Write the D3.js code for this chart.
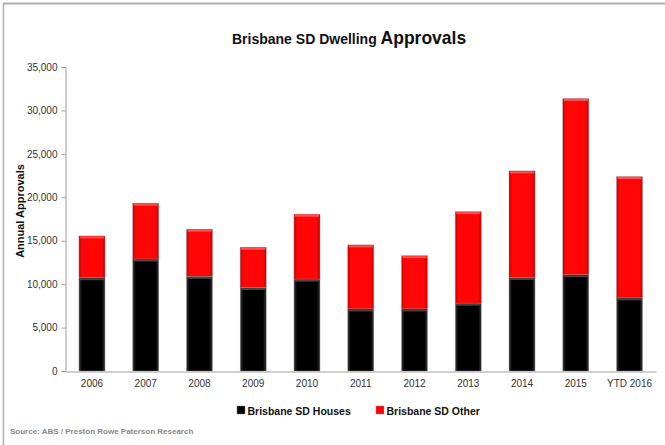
<!DOCTYPE html>
<html>
<head>
<meta charset="utf-8">
<script src="https://cdn.jsdelivr.net/npm/d3@7"></script>
<style>
  html, body { margin: 0; padding: 0; background: #fff; }
  svg { display: block; }
  text { font-family: "Liberation Sans", Arial, sans-serif; }
</style>
</head>
<body>
<svg id="chart" width="665" height="445"></svg>
<script>
const categories = ["2006", "2007", "2008", "2009", "2010", "2011", "2012", "2013", "2014", "2015", "YTD 2016"];
const houses = [10740, 12890, 10900, 9610, 10580, 7150, 7150, 7810, 10770, 11080, 8420];
const other  = [4810, 6430, 5425, 4640, 7470, 7370, 6130, 10540, 12270, 20290, 13965];
const seriesNames = ["Brisbane SD Houses", "Brisbane SD Other"];
const yTicks = [0, 5000, 10000, 15000, 20000, 25000, 30000, 35000];

const colors = ["#000000", "#ff0000"];

const svg = d3.select("#chart");

// frame (top and left border)
svg.append("line").attr("x1", 3).attr("x2", 665).attr("y1", 3.5).attr("y2", 3.5)
  .attr("stroke", "#b0b0b0").attr("stroke-width", 2);
svg.append("line").attr("x1", 3.5).attr("x2", 3.5).attr("y1", 3).attr("y2", 445)
  .attr("stroke", "#b0b0b0").attr("stroke-width", 1.5);

// defs: gradients for bevelled bars
const defs = svg.append("defs");
function grad(id, edge, mid) {
  const g = defs.append("linearGradient").attr("id", id).attr("x1", 0).attr("x2", 1).attr("y1", 0).attr("y2", 0);
  g.append("stop").attr("offset", "0%").attr("stop-color", edge);
  g.append("stop").attr("offset", "12%").attr("stop-color", mid);
  g.append("stop").attr("offset", "88%").attr("stop-color", mid);
  g.append("stop").attr("offset", "100%").attr("stop-color", edge);
}
grad("gBlack", "#3a3a3a", "#000000");
grad("gRed", "#c80000", "#ff0505");
const fills = ["url(#gBlack)", "url(#gRed)"];

const x = d3.scaleBand().domain(categories).range([65.5, 656]).paddingInner(0.515).paddingOuter(0.25);
const y = d3.scaleLinear().domain([0, 35000]).range([371, 67]);

const table = categories.map((c, i) => ({ cat: c, houses: houses[i], other: other[i] }));
const stack = d3.stack().keys(["houses", "other"]);
const layers = stack(table);

// bars
const g = svg.append("g");
layers.forEach((layer, li) => {
  const lg = g.append("g");
  lg.selectAll("rect").data(layer).join("rect")
    .attr("x", d => x(d.data.cat))
    .attr("width", x.bandwidth())
    .attr("y", d => y(d[1]))
    .attr("height", d => y(d[0]) - y(d[1]))
    .attr("fill", fills[li])
    .attr("stroke", "#9a9a9a").attr("stroke-opacity", 0.6).attr("stroke-width", 0.6);
  // top bevel highlight
  lg.selectAll("line.top").data(layer).join("line").attr("class", "top")
    .attr("x1", d => x(d.data.cat) + 1).attr("x2", d => x(d.data.cat) + x.bandwidth() - 1)
    .attr("y1", d => y(d[1]) + 1.5).attr("y2", d => y(d[1]) + 1.5)
    .attr("stroke", li === 0 ? "#444" : "#ff5050").attr("stroke-width", 2);
});

// y axis
const yAxis = svg.append("g").attr("transform", "translate(65.5,0)")
  .call(d3.axisLeft(y).tickValues(yTicks).tickSize(4).tickPadding(4).tickFormat(d3.format(",")));
yAxis.select(".domain").attr("stroke", "#a0a0a0");
yAxis.selectAll(".tick line").attr("stroke", "#a0a0a0");
yAxis.selectAll("text").attr("font-size", 10).attr("fill", "#333")
  .attr("font-family", "'Liberation Sans', Arial, sans-serif");

// x axis
const xAxis = svg.append("g").attr("transform", "translate(0,371.5)")
  .call(d3.axisBottom(x).tickSize(0).tickPadding(8));
xAxis.select(".domain").attr("stroke", "#a0a0a0");
xAxis.selectAll("text").attr("font-size", 10).attr("fill", "#333")
  .attr("font-family", "'Liberation Sans', Arial, sans-serif");

// title
const title = svg.append("text").attr("x", 232).attr("y", 44).attr("text-anchor", "start")
  .attr("fill", "#111");
title.append("tspan").attr("font-size", 14).attr("font-weight", "bold").text("Brisbane SD Dwelling ");
title.append("tspan").attr("font-size", 17.5).attr("font-weight", "bold").text("Approvals");

// y axis title
svg.append("text").attr("transform", "translate(24,211) rotate(-90)")
  .attr("text-anchor", "middle").attr("font-size", 11).attr("font-weight", "bold")
  .attr("fill", "#111").text("Annual Approvals");

// legend
const legendX = [237, 376];
seriesNames.forEach((name, i) => {
  const lg = svg.append("g").attr("transform", `translate(${legendX[i]},406)`);
  lg.append("rect").attr("x", 0).attr("y", 0).attr("width", 8).attr("height", 8)
    .attr("fill", colors[i]).attr("stroke", "#888").attr("stroke-width", 0.5);
  lg.append("text").attr("x", 10.5).attr("y", 8.5).attr("font-size", 10.5).attr("font-weight", "bold")
    .attr("fill", "#111").text(name);
});

// source
svg.append("text").attr("x", 10).attr("y", 434).attr("font-size", 8).attr("font-weight", "bold")
  .attr("fill", "#8a8a8a").text("Source: ABS / Preston Rowe Paterson Research");
</script>
</body>
</html>
